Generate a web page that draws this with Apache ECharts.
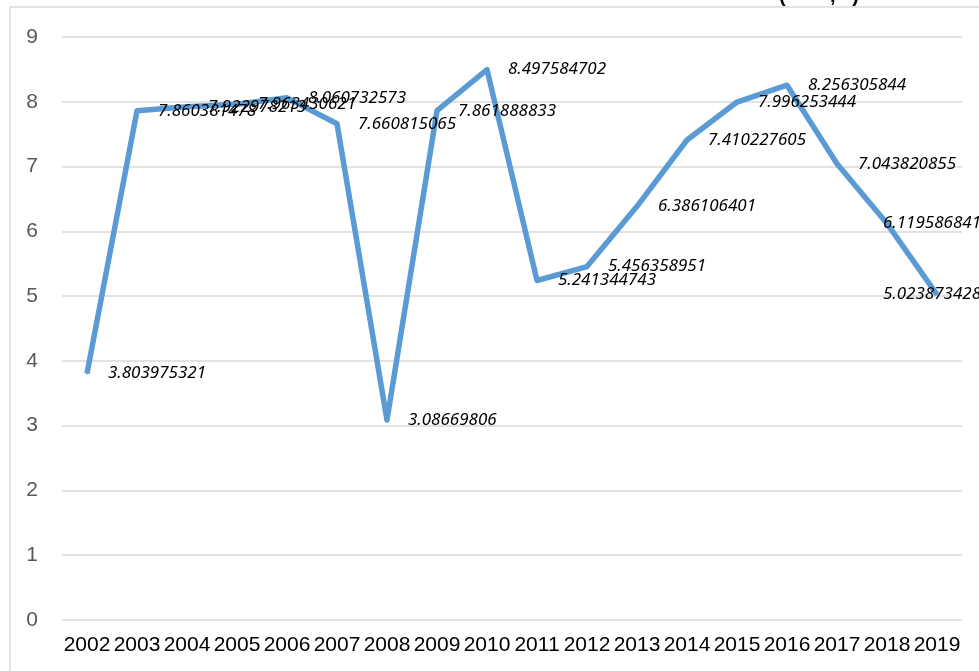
<!DOCTYPE html>
<html>
<head>
<meta charset="utf-8">
<script src="https://cdn.jsdelivr.net/npm/echarts@6/dist/echarts.min.js"></script>
<style>
  html, body { margin: 0; padding: 0; background: #ffffff; }
  #main { width: 979px; height: 671px; }
</style>
</head>
<body>
<div id="main"></div>
<script>
var years = ['2002', '2003', '2004', '2005', '2006', '2007', '2008', '2009', '2010',
  '2011', '2012', '2013', '2014', '2015', '2016', '2017', '2018', '2019'];
var rates = [3.803975321, 7.860381478, 7.922978213, 7.963430621, 8.060732573, 7.660815065,
  3.08669806, 7.861888833, 8.497584702, 5.241344743, 5.456358951, 6.386106401,
  7.410227605, 7.996253444, 8.256305844, 7.043820855, 6.119586841, 5.023873428];
var yTicks = { min: 0, max: 9, interval: 1 };

// the last two labels are pushed back inside the chart edge
var labelShift = { 16: -5, 17: -55 };

var chart = echarts.init(document.getElementById('main'), null, { renderer: 'canvas' });

var seriesData = rates.map(function (v, i) {
  var item = { value: v };
  if (labelShift[i] !== undefined) {
    item.label = { distance: labelShift[i] };
  }
  return item;
});

var option = {
  backgroundColor: '#ffffff',
  animation: false,
  graphic: [
    {
      type: 'rect',
      shape: { x: 10, y: 7, width: 1000, height: 700 },
      style: { fill: 'none', stroke: '#d9d9d9', lineWidth: 1.5 },
      silent: true
    },
    {
      type: 'text',
      left: 779,
      top: -14,
      style: {
        text: '(        ,   )',
        fill: '#000',
        font: 'bold 20px "Liberation Sans", Arial, sans-serif'
      },
      silent: true
    }
  ],
  grid: { left: 62, right: 17, top: 37, bottom: 51 },
  xAxis: {
    type: 'category',
    data: years,
    boundaryGap: true,
    axisLine: { show: false },
    axisTick: { show: false },
    axisLabel: {
      interval: 0,
      margin: 15,
      color: '#000',
      fontSize: 21,
      fontFamily: '"Liberation Sans", Arial, sans-serif'
    }
  },
  yAxis: {
    type: 'value',
    min: yTicks.min,
    max: yTicks.max,
    interval: yTicks.interval,
    axisLine: { show: false },
    axisTick: { show: false },
    splitLine: { lineStyle: { color: '#d9d9d9', width: 1.5 } },
    axisLabel: {
      margin: 24,
      color: '#595959',
      fontSize: 21,
      fontFamily: '"Liberation Sans", Arial, sans-serif'
    }
  },
  series: [{
    type: 'line',
    data: seriesData,
    showSymbol: true,
    showAllSymbol: true,
    symbol: 'circle',
    symbolSize: 2,
    lineStyle: { color: '#5b9bd5', width: 5.5, join: 'round' },
    itemStyle: { color: '#5b9bd5' },
    label: {
      show: true,
      position: 'right',
      distance: 20,
      offset: [0, 3],
      color: '#000',
      fontSize: 17,
      fontStyle: 'italic',
      fontFamily: '"Noto Sans", sans-serif',
      formatter: function (p) { return String(p.value); }
    },
    labelLayout: { hideOverlap: false }
  }]
};

chart.setOption(option);
</script>
</body>
</html>
